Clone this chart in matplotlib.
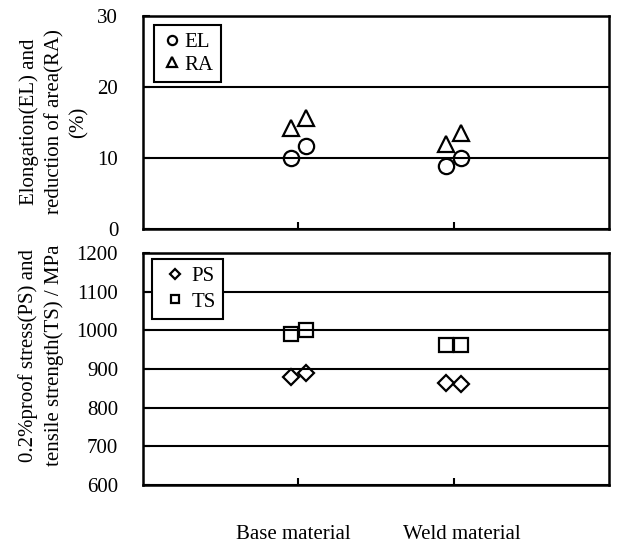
import matplotlib
matplotlib.use('Agg')
import matplotlib.pyplot as plt
from matplotlib.transforms import blended_transform_factory

plt.rcParams['font.family'] = ['Liberation Serif', 'DejaVu Serif']
plt.rcParams['font.size'] = 15

# x positions of the paired specimens (Base around 1, Weld around 2)
x_pos = [0.95, 1.05, 1.95, 2.05]
categories = ['Base material', 'Weld material']
cat_label_x = [0.97, 2.05]

el = [10.0, 11.65, 8.9, 10.0]
ra = [14.2, 15.6, 12.0, 13.5]
ps = [880, 889, 864, 862]
ts = [990, 1000, 961, 963]

fig = plt.figure(figsize=(6.17, 5.44), dpi=100)
ax1 = fig.add_axes([0.232, 0.579, 0.755, 0.3915])
ax2 = fig.add_axes([0.232, 0.1085, 0.755, 0.4265])

mk = dict(linestyle='none', markerfacecolor='none', markeredgecolor='black',
          markeredgewidth=1.6, color='black')

ax1.plot(x_pos, el, marker='o', markersize=11, label='EL', **mk)
ax1.plot(x_pos, ra, marker='^', markersize=11, label='RA', **mk)
ax2.plot(x_pos, ps, marker='D', markersize=8.5, label='PS', **mk)
ax2.plot(x_pos, ts, marker='s', markersize=10.5, label='TS', **mk)

ax1.set_ylim(0, 30)
ax1.set_yticks([0, 10, 20, 30])
ax2.set_ylim(600, 1200)
ax2.set_yticks(range(600, 1201, 100))

for ax in (ax1, ax2):
    ax.set_xlim(0, 3)
    ax.set_xticks([1, 2])
    ax.set_xticklabels([])
    ax.tick_params(axis='x', direction='in', length=5, width=1.5)
    ax.tick_params(axis='y', direction='in', length=5, width=1.5, pad=18)
    ax.yaxis.grid(True, color='black', linewidth=1.5)
    ax.set_axisbelow(True)
    for s in ax.spines.values():
        s.set_linewidth(1.8)
        s.set_color('black')

leg1 = ax1.legend(loc='upper left', bbox_to_anchor=(0.024, 0.958), markerscale=0.6,
                  handlelength=1.0, handletextpad=0.1, borderpad=0.35,
                  labelspacing=0.15, fancybox=False, edgecolor='black', framealpha=1,
                  borderaxespad=0)
leg1.get_frame().set_linewidth(1.5)
leg2 = ax2.legend(loc='upper left', bbox_to_anchor=(0.019, 0.974), markerscale=0.6,
                  handlelength=1.5, handletextpad=0.05, borderpad=0.35,
                  labelspacing=0.3, fancybox=False, edgecolor='black', framealpha=1,
                  borderaxespad=0)
leg2.get_frame().set_linewidth(1.5)

fig.text(54 / 617, 1 - 122 / 544, 'Elongation(EL) and\nreduction of area(RA)\n(%)',
         rotation=90, ha='center', va='center', multialignment='center', linespacing=1.4)
fig.text(41 / 617, 1 - 355 / 544, '0.2%proof stress(PS) and\ntensile strength(TS) / MPa',
         rotation=90, ha='center', va='center', multialignment='center', linespacing=1.4)

tr = blended_transform_factory(ax2.transData, fig.transFigure)
for xc, name in zip(cat_label_x, categories):
    ax2.text(xc, 0.018, name, transform=tr, ha='center', va='center')

fig.savefig('out.png', dpi=100)
